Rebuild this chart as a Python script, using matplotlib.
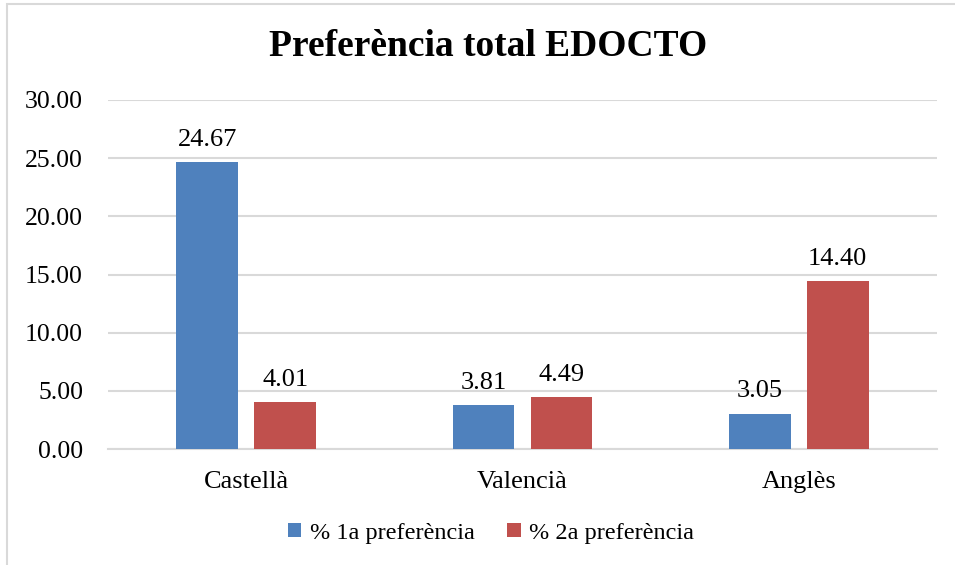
import matplotlib
matplotlib.use("Agg")
import matplotlib.pyplot as plt
from matplotlib.patches import Rectangle
import numpy as np

categories = ["Castellà", "Valencià", "Anglès"]
series_names = ["% 1a preferència", "% 2a preferència"]
pref1 = [24.67, 3.81, 3.05]
pref2 = [4.01, 4.49, 14.40]
colors = ["#4F81BD", "#C0504D"]
yticks = [0, 5, 10, 15, 20, 25, 30]

plt.rcParams['font.family'] = ['Liberation Serif', 'DejaVu Serif']

fig = plt.figure(figsize=(9.55, 5.65), dpi=100)
fig.patch.set_facecolor("white")
fig.patches.append(Rectangle((7/955, -0.2), 1.5, 1.2 - 4/565, transform=fig.transFigure,
                             fill=False, edgecolor="#D9D9D9", linewidth=1.5, zorder=0))

ax = fig.add_axes([108/955, 1-449/565, (937-108)/955, (449-100)/565])
x = np.arange(len(categories))
w = 0.224
off = 0.141
b1 = ax.bar(x - off, pref1, w, color=colors[0], label=series_names[0], zorder=3)
b2 = ax.bar(x + off, pref2, w, color=colors[1], label=series_names[1], zorder=3)
for bars in (b1, b2):
    for r in bars:
        ax.annotate(f"{r.get_height():.2f}", (r.get_x() + r.get_width()/2, r.get_height()),
                    xytext=(0, 8), textcoords="offset points", ha="center", va="bottom",
                    fontsize=19, color="#000000")

ax.set_xlim(-0.5, 2.5)
ax.set_ylim(0, 30)
ax.set_yticks(yticks)
ax.set_yticklabels([f"{v:.2f}" for v in yticks], fontsize=18.5)
ax.set_xticks(x)
ax.set_xticklabels(categories, fontsize=19)
ax.tick_params(length=0)
ax.tick_params(axis='x', pad=16)
ax.tick_params(axis='y', pad=18)
for s in ["top", "right", "left"]:
    ax.spines[s].set_visible(False)
ax.spines["bottom"].set_color("#D9D9D9")
ax.spines["bottom"].set_linewidth(1.5)
ax.yaxis.grid(True, color="#D9D9D9", linewidth=1.5, zorder=0)
ax.set_axisbelow(True)

fig.text(488/955, 1-46/565, "Preferència total EDOCTO", ha="center", va="center",
         fontsize=27, fontweight="bold")

leg = fig.legend(handles=[b1, b2], labels=series_names, loc="center", bbox_to_anchor=(491/955, 1-533/565),
                 ncol=2, frameon=False, fontsize=17.5, handlelength=0.55, handleheight=0.55,
                 handletextpad=0.35, columnspacing=1.35)

fig.savefig("out.png", dpi=100, facecolor="white")
